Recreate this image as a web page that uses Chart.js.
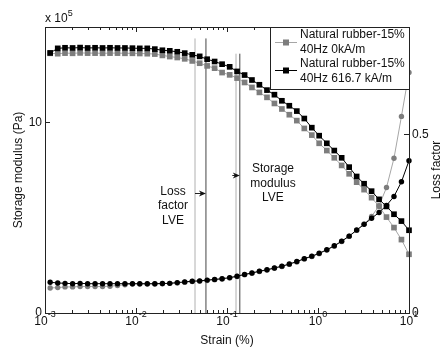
<!DOCTYPE html>
<html>
<head>
<meta charset="utf-8">
<script src="https://cdn.jsdelivr.net/npm/chart.js@4"></script>
<style>
  html, body { margin: 0; padding: 0; background: #fff; }
  canvas { display: block; }
</style>
</head>
<body>
<canvas id="sweep" width="443" height="347"></canvas>
<script>
// strain amplitude (%) of each sweep step
const strain = [
  0.00114, 0.00138, 0.00166, 0.00201, 0.00243, 0.00294, 0.00355, 0.00429, 0.00518, 0.00626, 0.00756, 0.00914,
  0.0110, 0.0133, 0.0161, 0.0195, 0.0235, 0.0284, 0.0343, 0.0415, 0.0501, 0.0605, 0.0731, 0.0883,
  0.107, 0.129, 0.156, 0.188, 0.227, 0.275, 0.332, 0.401, 0.484, 0.585, 0.707, 0.855,
  1.03, 1.25, 1.51, 1.82, 2.20, 2.66, 3.21, 3.88, 4.69, 5.66, 6.84, 8.26,
  10.0
];

// storage modulus, x 10^5 Pa
const storageOff = [
  13.62, 13.60, 13.63, 13.62, 13.64, 13.63, 13.63, 13.62, 13.63, 13.63, 13.62, 13.62,
  13.61, 13.60, 13.58, 13.51, 13.45, 13.40, 13.33, 13.22, 13.10, 12.96, 12.84, 12.61,
  12.49, 12.32, 12.09, 11.83, 11.57, 11.31, 10.99, 10.70, 10.40, 10.09, 9.68, 9.33,
  8.90, 8.52, 8.14, 7.74, 7.30, 6.86, 6.47, 6.05, 5.59, 5.03, 4.48, 3.85,
  3.08
];
const storageOn = [
  13.64, 13.88, 13.91, 13.90, 13.92, 13.90, 13.91, 13.90, 13.91, 13.90, 13.90, 13.89,
  13.88, 13.88, 13.84, 13.78, 13.75, 13.70, 13.63, 13.54, 13.46, 13.31, 13.19, 13.05,
  12.91, 12.67, 12.48, 12.22, 11.97, 11.69, 11.45, 11.13, 10.87, 10.59, 10.20, 9.72,
  9.30, 8.90, 8.52, 8.14, 7.65, 7.16, 6.78, 6.39, 5.96, 5.59, 5.18, 4.82,
  4.34
];

// loss factor (tan delta)
const lossOff = [
  0.070, 0.071, 0.073, 0.073, 0.074, 0.074, 0.074, 0.074, 0.075, 0.077, 0.079, 0.081,
  0.081, 0.081, 0.081, 0.082, 0.083, 0.084, 0.086, 0.088, 0.089, 0.091, 0.093, 0.095,
  0.098, 0.102, 0.107, 0.111, 0.116, 0.120, 0.125, 0.130, 0.136, 0.143, 0.151, 0.158,
  0.166, 0.176, 0.187, 0.200, 0.215, 0.231, 0.249, 0.270, 0.300, 0.351, 0.433, 0.550,
  0.673
];
const lossOn = [
  0.086, 0.084, 0.083, 0.082, 0.083, 0.082, 0.082, 0.082, 0.082, 0.082, 0.082, 0.082,
  0.082, 0.082, 0.082, 0.0825, 0.083, 0.085, 0.087, 0.089, 0.090, 0.092, 0.094, 0.096,
  0.099, 0.103, 0.108, 0.112, 0.117, 0.121, 0.126, 0.131, 0.137, 0.144, 0.152, 0.159,
  0.167, 0.177, 0.188, 0.201, 0.215, 0.232, 0.248, 0.265, 0.281, 0.301, 0.326, 0.367,
  0.426
];

const seriesNames = [
  ['Natural rubber-15%', '40Hz 0kA/m'],
  ['Natural rubber-15%', '40Hz 616.7 kA/m']
];

// linear viscoelastic limits (strain %) for both fields
const lveLoss = [0.0445, 0.0587];
const lveStorage = [0.1256, 0.1383];
const lveTop = [14.4, 13.6];

const xTicks = [1e-3, 1e-2, 1e-1, 1e0, 1e1];
const leftTicks = [0, 10];
const rightTicks = [0, 0.5];

const FONT = '"Liberation Sans", Arial, Helvetica, sans-serif';
const GREY = '#7d7d7d';
const GREY_LINE = '#a6a6a6';

const pts = (vals) => vals.map((v, i) => ({ x: strain[i], y: v }));
const vline = (x, top) => [{ x: x, y: 0 }, { x: x, y: top }];

function series(vals, axis, color, lineColor, shape, r) {
  return {
    data: pts(vals),
    yAxisID: axis,
    borderColor: lineColor,
    borderWidth: 1,
    backgroundColor: color,
    pointBackgroundColor: color,
    pointBorderWidth: 0,
    pointStyle: shape,
    pointRadius: r,
    tension: 0,
    clip: 8
  };
}

function guide(x, top, color) {
  return {
    data: vline(x, top),
    yAxisID: 'y',
    borderColor: color,
    borderWidth: 1,
    pointRadius: 0,
    tension: 0
  };
}

// frame, inward ticks, labels, notes and legend
const axesPlugin = {
  id: 'axesPlugin',
  afterDraw(chart) {
    const { ctx, chartArea: a, scales } = chart;
    const sx = scales.x, sy = scales.y, sr = scales.y1;
    ctx.save();
    ctx.strokeStyle = '#222';
    ctx.lineWidth = 1;
    ctx.strokeRect(a.left + 0.5, a.top + 0.5, a.right - a.left, a.bottom - a.top);

    // log ticks top and bottom
    ctx.beginPath();
    for (let d = -3; d <= 0; d++) {
      for (let m = 1; m <= 9; m++) {
        const px = Math.round(sx.getPixelForValue(m * Math.pow(10, d))) + 0.5;
        const len = m === 1 ? 5 : 3;
        ctx.moveTo(px, a.bottom); ctx.lineTo(px, a.bottom - len);
        ctx.moveTo(px, a.top); ctx.lineTo(px, a.top + len);
      }
    }
    leftTicks.forEach(v => {
      const py = Math.round(sy.getPixelForValue(v)) + 0.5;
      ctx.moveTo(a.left, py); ctx.lineTo(a.left + 5, py);
    });
    rightTicks.forEach(v => {
      const py = Math.round(sr.getPixelForValue(v)) + 0.5;
      ctx.moveTo(a.right, py); ctx.lineTo(a.right - 5, py);
    });
    ctx.stroke();

    ctx.fillStyle = '#111';
    ctx.textBaseline = 'middle';

    // decade labels 10^n
    xTicks.forEach(v => {
      const px = sx.getPixelForValue(v);
      const exp = String(Math.round(Math.log10(v)));
      ctx.font = '12px ' + FONT;
      const wb = ctx.measureText('10').width;
      ctx.font = '9px ' + FONT;
      const we = ctx.measureText(exp).width;
      const x0 = px - (wb + we) / 2;
      ctx.textAlign = 'left';
      ctx.font = '12px ' + FONT;
      ctx.fillText('10', x0, a.bottom + 9);
      ctx.font = '9px ' + FONT;
      ctx.fillText(exp, x0 + wb, a.bottom + 2);
    });

    ctx.font = '12px ' + FONT;
    ctx.textAlign = 'right';
    leftTicks.forEach(v => ctx.fillText(String(v), a.left - 3, sy.getPixelForValue(v)));
    ctx.textAlign = 'left';
    rightTicks.forEach(v => ctx.fillText(String(v), a.right + 3, sr.getPixelForValue(v)));

    // multiplier over the left axis
    ctx.fillText('x 10', a.left, a.top - 8);
    const wm = ctx.measureText('x 10').width;
    ctx.font = '9px ' + FONT;
    ctx.fillText('5', a.left + wm, a.top - 13);

    // axis titles
    ctx.font = '12px ' + FONT;
    ctx.textAlign = 'center';
    ctx.fillText('Strain (%)', (a.left + a.right) / 2, a.bottom + 28);
    ctx.save();
    ctx.translate(19, 170);
    ctx.rotate(-Math.PI / 2);
    ctx.fillText('Storage modulus (Pa)', 0, 0);
    ctx.restore();
    ctx.save();
    ctx.translate(437, 170);
    ctx.rotate(-Math.PI / 2);
    ctx.fillText('Loss factor', 0, 0);
    ctx.restore();

    // LVE notes with arrows
    const note = (lines, x, y0, step) => {
      const px = sx.getPixelForValue(x);
      lines.forEach((t, i) => ctx.fillText(t, px, sy.getPixelForValue(y0) + i * step));
    };
    note(['Loss', 'factor', 'LVE'], 0.0255, 6.36, 14.3);
    note(['Storage', 'modulus', 'LVE'], 0.32, 7.55, 14.2);

    const arrow = (x1, x2, yv) => {
      const p1 = sx.getPixelForValue(x1), p2 = sx.getPixelForValue(x2);
      const py = Math.round(sy.getPixelForValue(yv)) + 0.5;
      ctx.beginPath();
      ctx.moveTo(p1, py); ctx.lineTo(p2 - 3, py);
      ctx.stroke();
      ctx.beginPath();
      ctx.moveTo(p2, py);
      ctx.lineTo(p2 - 7, py - 3);
      ctx.lineTo(p2 - 5, py);
      ctx.lineTo(p2 - 7, py + 3);
      ctx.closePath();
      ctx.fillStyle = '#111';
      ctx.fill();
    };
    arrow(lveLoss[0], lveLoss[1], 6.28);
    arrow(0.1143, lveStorage[1], 7.24);

    // legend box in the upper right corner
    const lx = 270.5, ly = a.top + 0.5, lw = a.right - 270, lh = 62;
    ctx.fillStyle = '#fff';
    ctx.fillRect(lx, ly, lw, lh);
    ctx.strokeStyle = '#222';
    ctx.strokeRect(lx, ly, lw, lh);
    const keys = [
      { line: GREY_LINE, fill: GREY, y: 42.5, ty: 35 },
      { line: '#000', fill: '#000', y: 70.5, ty: 64 }
    ];
    keys.forEach((k, i) => {
      ctx.strokeStyle = k.line;
      ctx.beginPath();
      ctx.moveTo(275, k.y); ctx.lineTo(297, k.y);
      ctx.stroke();
      ctx.fillStyle = k.fill;
      ctx.fillRect(283, k.y - 3, 6, 6);
      ctx.fillStyle = '#111';
      ctx.textAlign = 'left';
      ctx.font = '12px ' + FONT;
      seriesNames[i].forEach((t, j) => ctx.fillText(t, 300, k.ty + j * 14.5));
    });
    ctx.restore();
  }
};

new Chart(document.getElementById('sweep'), {
  type: 'line',
  data: {
    datasets: [
      series(lossOn, 'y1', '#000', '#000', 'circle', 2.7),
      series(storageOn, 'y', '#000', '#000', 'rect', 4),
      series(lossOff, 'y1', GREY, GREY_LINE, 'circle', 2.7),
      series(storageOff, 'y', GREY, GREY_LINE, 'rect', 4),
      guide(lveLoss[1], lveTop[0], '#444'),
      guide(lveLoss[0], lveTop[0], '#b0b0b0'),
      guide(lveStorage[1], lveTop[1], '#444'),
      guide(lveStorage[0], lveTop[1], '#b0b0b0')
    ]
  },
  options: {
    responsive: false,
    animation: false,
    layout: { padding: { left: 45, top: 27, right: 34, bottom: 34 } },
    scales: {
      x: { type: 'logarithmic', min: 1e-3, max: 10, display: false },
      y: { min: 0, max: 15, display: false },
      y1: { min: 0, max: 0.8, display: false, position: 'right' }
    },
    plugins: {
      legend: { display: false },
      tooltip: { enabled: false }
    }
  },
  plugins: [axesPlugin]
});
</script>
</body>
</html>
